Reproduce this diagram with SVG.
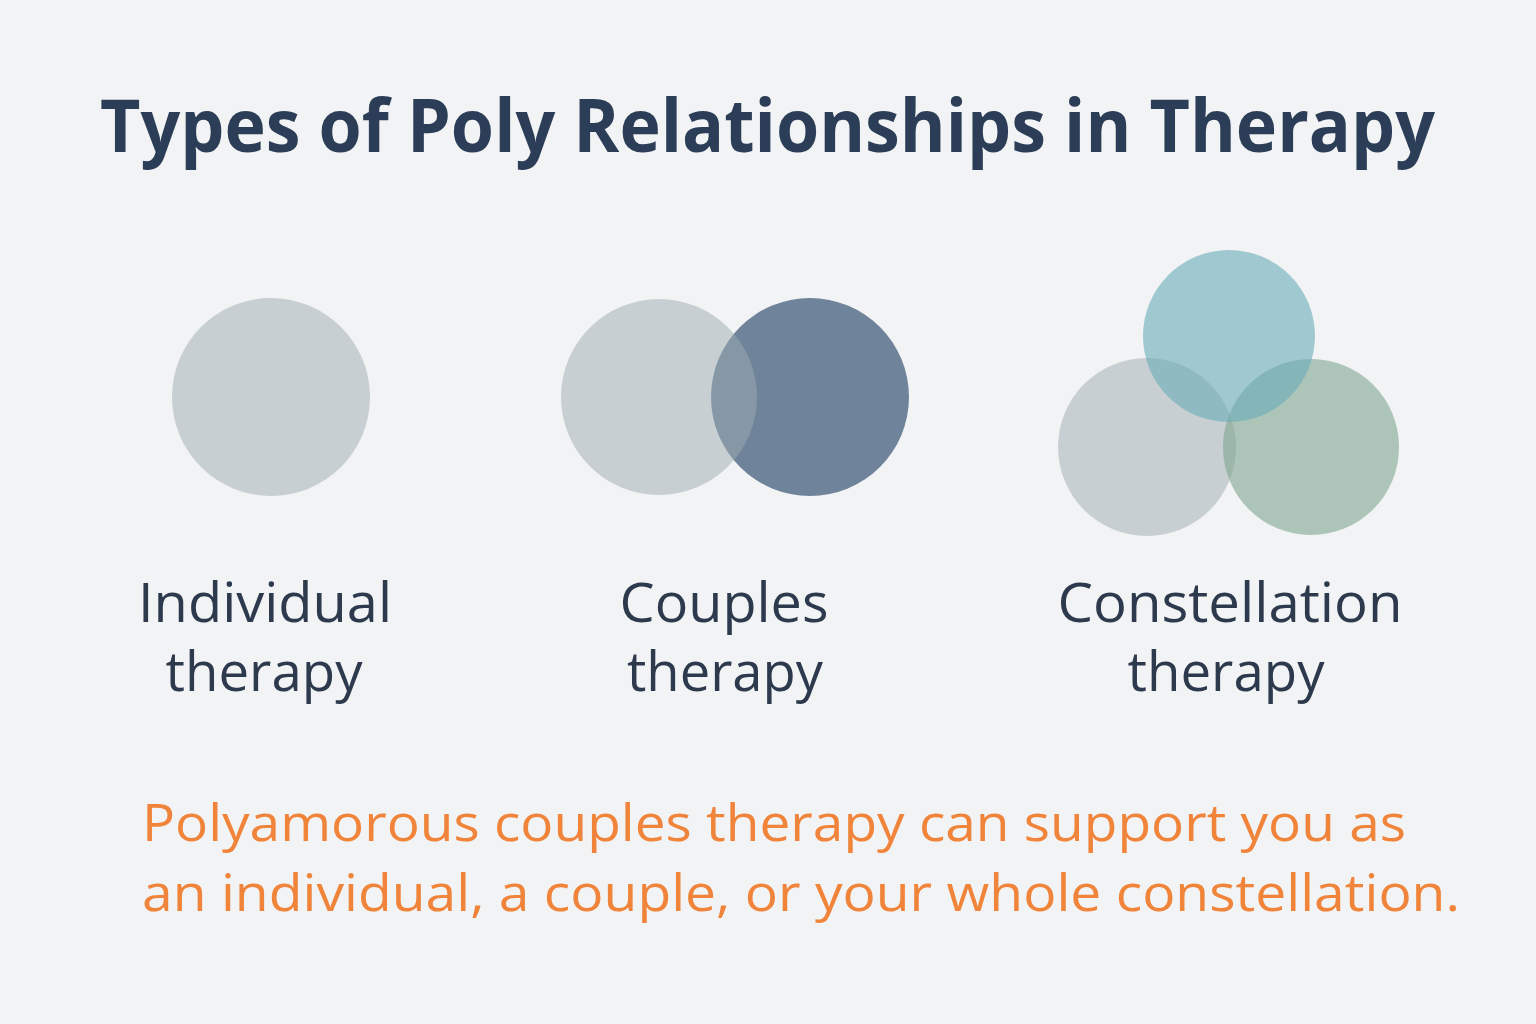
<svg xmlns="http://www.w3.org/2000/svg" width="1536" height="1024" viewBox="0 0 1536 1024">
  <style>
    text { font-variant-ligatures: none; }
    .title { font-family: "Open Sans", "Noto Sans", "Liberation Sans", sans-serif; font-weight: 700; font-size: 74px; fill: #2c3e57; }
    .label { font-family: "Open Sans", "Noto Sans", "Liberation Sans", sans-serif; font-weight: 400; font-size: 55px; fill: #2d3a4d; text-anchor: middle; }
    .note { font-family: "Open Sans", "Noto Sans", "Liberation Sans", sans-serif; font-weight: 400; font-size: 52px; fill: #f0843a; }
    .grey { fill: #9eabb2; fill-opacity: 0.5; }
    .navy { fill: #6f839b; }
    .teal { fill: #69abb8; fill-opacity: 0.6; }
    .green { fill: #7fa590; fill-opacity: 0.6; }
  </style>
  <rect width="1536" height="1024" fill="#f2f3f4"/>
  <text class="title" x="100" y="152" textLength="1335" lengthAdjust="spacingAndGlyphs">Types of Poly Relationships in Therapy</text>

  <g id="individual">
    <circle class="grey" cx="271" cy="397" r="99"/>
    <text class="label" x="265" y="622" textLength="254" lengthAdjust="spacingAndGlyphs">Individual</text>
    <text class="label" x="264" y="691" textLength="197" lengthAdjust="spacingAndGlyphs">therapy</text>
  </g>

  <g id="couples">
    <circle class="navy" cx="810" cy="397" r="99"/>
    <circle class="grey" cx="659" cy="397" r="98"/>
    <text class="label" x="724" y="622" textLength="209" lengthAdjust="spacingAndGlyphs">Couples</text>
    <text class="label" x="725" y="691" textLength="196" lengthAdjust="spacingAndGlyphs">therapy</text>
  </g>

  <g id="constellation">
    <circle class="grey" cx="1147" cy="447" r="89"/>
    <circle class="green" cx="1311" cy="447" r="88"/>
    <circle class="teal" cx="1229" cy="336" r="86"/>
    <text class="label" x="1230" y="622" textLength="345" lengthAdjust="spacingAndGlyphs">Constellation</text>
    <text class="label" x="1226" y="691" textLength="197" lengthAdjust="spacingAndGlyphs">therapy</text>
  </g>

  <g id="connectors"/>

  <text class="note" x="142" y="841" textLength="1264" lengthAdjust="spacingAndGlyphs">Polyamorous couples therapy can support you as</text>
  <text class="note" x="142" y="911" textLength="1318" lengthAdjust="spacingAndGlyphs">an individual, a couple, or your whole constellation.</text>
</svg>
